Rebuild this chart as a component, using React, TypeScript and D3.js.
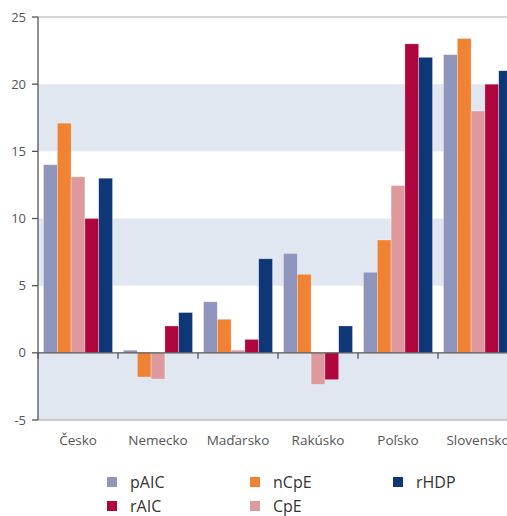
import React from "react";
import * as d3 from "d3";

const categories = ["Česko", "Nemecko", "Maďarsko", "Rakúsko", "Poľsko", "Slovensko"];
const seriesNames = ["pAIC", "nCpE", "CpE", "rAIC", "rHDP"];
const seriesColors = ["#8f95bd", "#f08333", "#de999c", "#b0063f", "#0f3777"];
const pAIC = [14, 0.2, 3.8, 7.4, 6.0, 22.2];
const nCpE = [17.1, -1.8, 2.5, 5.85, 8.4, 23.4];
const CpE = [13.1, -1.95, 0.2, -2.35, 12.45, 18.0];
const rAIC = [10, 2, 1, -2, 23, 20];
const rHDP = [13, 3, 7, 2, 22, 21];
const seriesValues = [pAIC, nCpE, CpE, rAIC, rHDP];
const yTicks = [-5, 0, 5, 10, 15, 20, 25];
const legendOrder = ["pAIC", "rAIC", "nCpE", "CpE", "rHDP"];

const W = 507, H = 516;
const left = 38, top = 17, bottom = 420;
const catW = 80;

export default function App() {
  const x = d3.scaleBand<string>().domain(categories).range([left, left + catW * categories.length]).paddingInner(0.137).paddingOuter(0.0685);
  const outer = d3.scaleBand<string>().domain(categories).range([left, left + catW * categories.length]);
  const xs = d3.scaleBand<string>().domain(seriesNames).range([0, x.bandwidth()]);
  const y = d3.scaleLinear().domain([-5, 25]).range([bottom, top]);
  const font = "'Open Sans', 'Noto Sans', sans-serif";
  const bands = [[15, 20], [5, 10], [-5, 0]];
  return (
    <svg width={W} height={H} style={{ position: "absolute", left: 0, top: 0 }} fontFamily={font}>
      <rect x={0} y={0} width={W} height={H} fill="#fff" />
      {bands.map(([a, b], i) => (
        <rect key={i} x={left} y={y(b)} width={W - left} height={y(a) - y(b)} fill="#e1e7f1" />
      ))}
      <line x1={left} x2={W} y1={y(25)} y2={y(25)} stroke="#c8c8c8" strokeWidth={1.5} />
      <line x1={left} x2={W} y1={y(-5)} y2={y(-5)} stroke="#bdbdbd" strokeWidth={1.5} />
      {seriesValues.map((vals, si) =>
        vals.map((v, ci) => {
          const cx = (outer(categories[ci]) as number) + (catW - x.bandwidth()) / 2 + (xs(seriesNames[si]) as number);
          const y0 = y(Math.max(0, v)), y1 = y(Math.min(0, v));
          return (
            <rect key={si + "-" + ci} x={cx} y={y0} width={xs.bandwidth()} height={y1 - y0}
              fill={seriesColors[si]} stroke="#ffffff" strokeOpacity={0.5} strokeWidth={0.6} />
          );
        })
      )}
      <line x1={left} x2={W} y1={y(0)} y2={y(0)} stroke="#555" strokeWidth={1.3} />
      {categories.map((c, i) => i > 0 ? (
        <line key={c} x1={outer(c)} x2={outer(c)} y1={y(0)} y2={y(0) + 6} stroke="#555" strokeWidth={1.3} />
      ) : null)}
      <line x1={left} x2={left} y1={y(25)} y2={y(-5)} stroke="#555" strokeWidth={1.3} />
      <line x1={left} x2={left} y1={y(0)} y2={y(0) + 6} stroke="#555" strokeWidth={1.3} />
      {yTicks.map((t) => (
        <g key={t}>
          <line x1={left - 6} x2={left} y1={y(t)} y2={y(t)} stroke="#555" strokeWidth={1.3} />
          <text x={left - 12} y={y(t)} dy="0.35em" textAnchor="end" fontSize={13} fill="#555">{t}</text>
        </g>
      ))}
      {categories.map((c) => (
        <text key={c} x={(outer(c) as number) + catW / 2} y={440} dy="0.35em" textAnchor="middle" fontSize={13.5} fill="#555">{c}</text>
      ))}
      {legendOrder.map((name, i) => {
        const col = Math.floor(i / 2), row = i % 2;
        const lx = [107, 250, 393][col];
        const ly = [482, 506][row];
        const si = seriesNames.indexOf(name);
        return (
          <g key={name}>
            <rect x={lx} y={ly - 5} width={10} height={10} fill={seriesColors[si]} />
            <text x={lx + 23} y={ly} dy="0.35em" fontSize={16} fill="#333">{name}</text>
          </g>
        );
      })}
    </svg>
  );
}
